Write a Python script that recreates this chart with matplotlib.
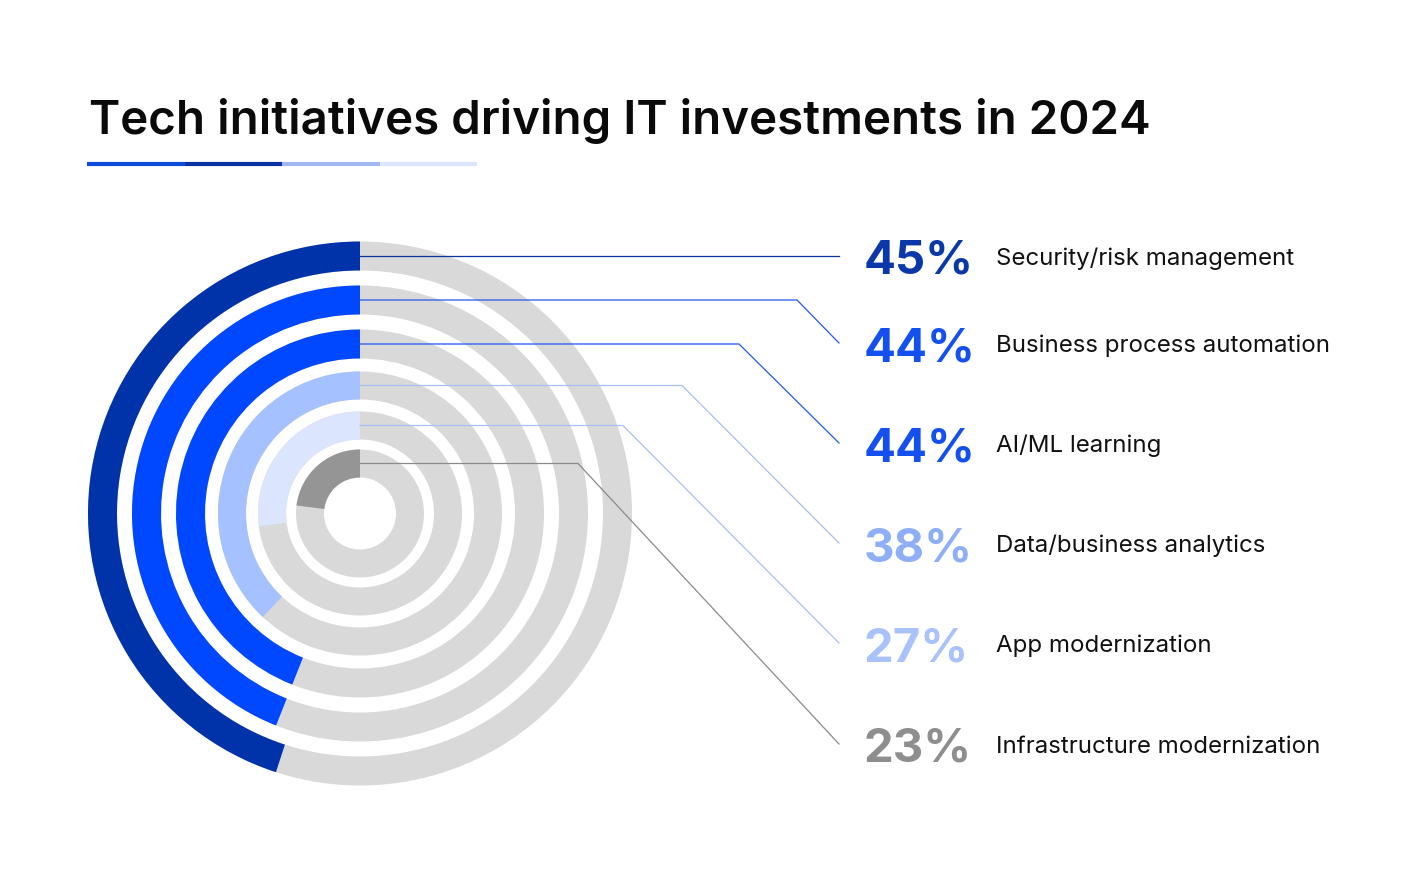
import matplotlib
matplotlib.use("Agg")
import matplotlib.pyplot as plt
from matplotlib.patches import Wedge

# data
categories = ["Security/risk management", "Business process automation", "AI/ML learning",
              "Data/business analytics", "App modernization", "Infrastructure modernization"]
values = [45, 44, 44, 38, 27, 23]

# styles
bar_colors = ["#0033AA", "#0048FF", "#0048FF", "#A6C1FF", "#DCE5FE", "#959595"]
pct_colors = ["#0A38A8", "#1450F0", "#1450F0", "#8EAEF6", "#A9C2FA", "#8E8E8E"]
line_colors = ["#0A33A0", "#2358E8", "#2358E8", "#A8BFF5", "#A8BFF5", "#8A8A8A"]
track_color = "#D9D9D9"

# layout (pixels)
W, H = 1420, 883
cx, cy = 360, 513.5
r_outer = [272, 228, 184, 142, 102, 64]
ring_w = [29, 29, 29, 28, 28, 28]
bend_x = [839, 797, 739, 682, 623, 578]
row_y = [256, 343, 443, 543, 643, 744]
line_end_x = 839

plt.rcParams['font.family'] = ['Inter', 'DejaVu Sans']

fig = plt.figure(figsize=(W / 100, H / 100), dpi=100)
ax = fig.add_axes([0, 0, 1, 1])
ax.set_xlim(0, W)
ax.set_ylim(H, 0)
ax.axis('off')

# title + coloured underline
ax.text(89, 134, "Tech initiatives driving IT investments in 2024", fontsize=34.2,
        fontweight='semibold', color='#0A0A0A', va='baseline', ha='left')
seg_colors = ["#0D4BDB", "#0B33A3", "#A1B8F0", "#DCE5FA"]
for i, c in enumerate(seg_colors):
    ax.plot([87 + i * 97.5, 87 + (i + 1) * 97.5], [164, 164], color=c, lw=3,
            solid_capstyle='butt')

# rings: grey track, then the value arc counter-clockwise from the top
for i, v in enumerate(values):
    ax.add_patch(Wedge((cx, cy), r_outer[i], 0, 360, width=ring_w[i],
                       facecolor=track_color, edgecolor='none'))
    ax.add_patch(Wedge((cx, cy), r_outer[i], 270 - v * 3.6, 270, width=ring_w[i],
                       facecolor=bar_colors[i], edgecolor='none'))

# connector lines
for i in range(len(values)):
    y0 = cy - (r_outer[i] - ring_w[i] / 2)
    ax.plot([cx, bend_x[i], line_end_x], [y0, y0, row_y[i]], color=line_colors[i],
            lw=0.9, solid_joinstyle='miter')

# labels
for i, (cat, v) in enumerate(zip(categories, values)):
    ax.text(864, row_y[i] + 18, f"{v}%", fontsize=34, fontweight='bold',
            color=pct_colors[i], va='baseline', ha='left')
    ax.text(996, row_y[i] + 9, cat, fontsize=17.3, color='#111111',
            va='baseline', ha='left')

fig.savefig("out.png", dpi=100, facecolor='white')
